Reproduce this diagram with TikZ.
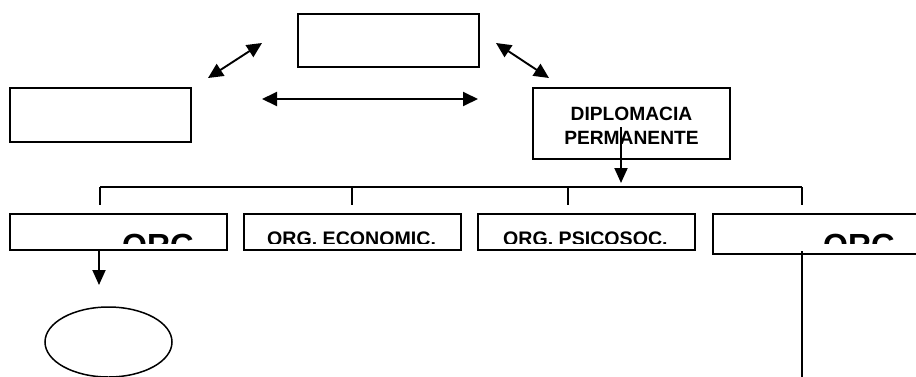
\documentclass[tikz,border=0pt]{standalone}
\usepackage{fontspec}
\setmainfont{Liberation Sans}
\usetikzlibrary{arrows.meta,shapes.geometric}
\tikzset{
  boxn/.style={draw, line width=1.9pt, rectangle, anchor=north west, inner sep=0pt},
  conn/.style={line width=1.9pt},
  arr/.style={line width=1.9pt, -{Triangle[length=15pt,width=13pt]}},
  darr/.style={line width=1.9pt, {Triangle[length=15pt,width=14pt]}-{Triangle[length=15pt,width=14pt]}},
  big/.style={font=\fontsize{32}{38}\selectfont\bfseries, inner sep=0pt, anchor=base west},
  mid/.style={font=\fontsize{19.6}{24}\selectfont\bfseries, inner sep=0pt, anchor=base west},
}
\begin{document}
\begin{tikzpicture}[x=1pt,y=-1pt]
\useasboundingbox (0,0) rectangle (916,376);
\clip (0,0) rectangle (916,376);
% top boxes
\node[boxn, minimum width=181, minimum height=53] (top) at (297,13) {};
\node[boxn, minimum width=181, minimum height=54] (left) at (9,87) {};
\node[boxn, minimum width=197, minimum height=71] (dip) at (532,87) {};
\node[align=center, inner sep=0pt, font=\fontsize{19.2}{24}\selectfont\bfseries,
      yshift=-2.5pt] (diptext) at (dip.center) {DIPLOMACIA\\PERMANENTE};
% double arrows
\coordinate (la1) at (208,78); \coordinate (la2) at (262,43);
\coordinate (ra1) at (496,43); \coordinate (ra2) at (549,78);
\coordinate (ha1) at (262,99); \coordinate (ha2) at (478,99);
\draw[darr] (la1) -- (la2);
\draw[darr] (ra1) -- (ra2);
\draw[darr] (ha1) -- (ha2);
% arrow from diplomacia
\coordinate (d1) at (621,127); \coordinate (d2) at (621,183);
\draw[arr] (d1) -- (d2);
% bus
\coordinate (b1) at (100,187); \coordinate (b2) at (352,187);
\coordinate (b3) at (568,187); \coordinate (b4) at (802,187);
\coordinate (t1) at (100,205); \coordinate (t2) at (352,205);
\coordinate (t3) at (568,205); \coordinate (t4) at (802,205);
\draw[conn] (b1) -- (b4);
\draw[conn] (b1) -- (t1);
\draw[conn] (b2) -- (t2);
\draw[conn] (b3) -- (t3);
\draw[conn] (b4) -- (t4);
% bottom boxes
\node[boxn, minimum width=217, minimum height=36] (o1) at (9,213) {};
\node[boxn, minimum width=217, minimum height=36] (o2) at (243,213) {};
\node[boxn, minimum width=217, minimum height=36] (o3) at (477,213) {};
\node[boxn, minimum width=240, minimum height=40] (o4) at (712,213) {};
\begin{scope}
\clip (0,200) rectangle (916,243.5);
\node[big] (o1t) at (122,256) {ORG};
\node[big] (o4t) at (823,256) {ORG};
\node[mid] (o2t) at (267,245) {ORG. ECONOMIC.};
\node[mid] (o3t) at (503,245) {ORG. PSICOSOC.};
\end{scope}
% below
\node[draw, ellipse, line width=1.5pt, minimum width=127, minimum height=70] (el) at (108.5,342) {};
\coordinate (e1) at (99,249); \coordinate (e2) at (99,285);
\draw[arr] (e1) -- (e2);
\coordinate (v1) at (802,251); \coordinate (v2) at (802,378);
\draw[conn] (v1) -- (v2);
\end{tikzpicture}
\end{document}
